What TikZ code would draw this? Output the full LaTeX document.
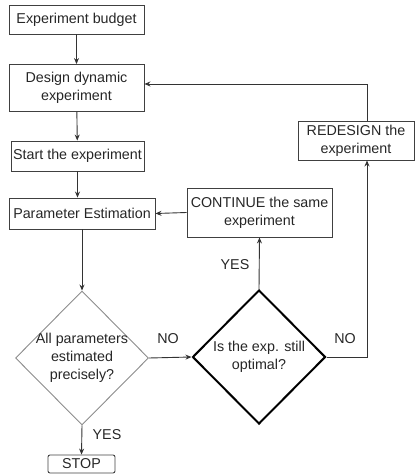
\documentclass[tikz,border=0pt]{standalone}
\usepackage{fontspec}
\setmainfont{Liberation Sans}
\usetikzlibrary{arrows.meta,shapes.geometric}

\tikzset{
    box/.style={draw=black!75, line width=0.9bp, inner sep=0pt, align=center},
    decision/.style={diamond, aspect=1, inner sep=0pt, minimum width=133bp, minimum height=134bp},
    flow/.style={draw=black!80, line width=0.9bp, -{Stealth[length=6bp,width=5bp]}},
}

\begin{document}
\begin{tikzpicture}[x=1bp, y=-1bp, font=\fontsize{14.3bp}{18bp}\selectfont, text=black!85]
    %%Background
    \useasboundingbox (0,0) rectangle (417,476);
    %%Boxes
    \node[box, minimum width=135bp, minimum height=29bp] (budget) at (76.5,19.5) {Experiment budget};
    \node[box, minimum width=135bp, minimum height=47bp] (design) at (76.5,88) {Design dynamic\\experiment};
    \node[box, minimum width=133bp, minimum height=30bp] (start) at (77.5,156) {Start the experiment};
    \node[box, minimum width=146bp, minimum height=31bp] (estim) at (82,213.5) {Parameter Estimation};
    \node[box, minimum width=145bp, minimum height=49bp] (cont) at (259.5,212.5) {CONTINUE the same\\experiment};
    \node[box, minimum width=116bp, minimum height=39bp] (redesign) at (356,140.5) {REDESIGN the\\experiment};
    \node[box, rounded corners=2bp, minimum width=67bp, minimum height=18bp] (stop) at (81.5,464) {STOP};

    %%Decisions
    \node[decision, draw=black!45, line width=0.9bp] (dec1) at (82,358) {};
    \node[align=center] (dec1txt) at (dec1) {All parameters\\estimated\\precisely?};
    \node[decision, draw=black, line width=2bp] (dec2) at (259,357) {};
    \node[align=center] (dec2txt) at (dec2) {Is the exp. still\\optimal?};

    %%Arrows
    \draw[flow] (budget) -- (design);
    \draw[flow] (design) -- (start);
    \draw[flow] (start.south) -- (start.south |- estim.north);
    \draw[flow] (estim) -- (dec1);
    \draw[flow] (dec1.east) -- (dec2.west);
    \draw[flow] (dec2.north) -- (cont.south);
    \draw[flow] (cont.west) -- (estim.east);
    \draw[flow] (dec2.east) -| ([xshift=11bp]redesign.south);
    \draw[flow] ([xshift=11bp]redesign.north) |- ([yshift=4bp]design.east);
    \draw[flow] (dec1.south) -- (stop.north);

    %%Labels
    \draw
    (168,339) node (no1) {NO}
    (345,339) node (no2) {NO}
    (235,265) node (yes1) {YES}
    (107,435) node (yes2) {YES}
    ;
\end{tikzpicture}
\end{document}
